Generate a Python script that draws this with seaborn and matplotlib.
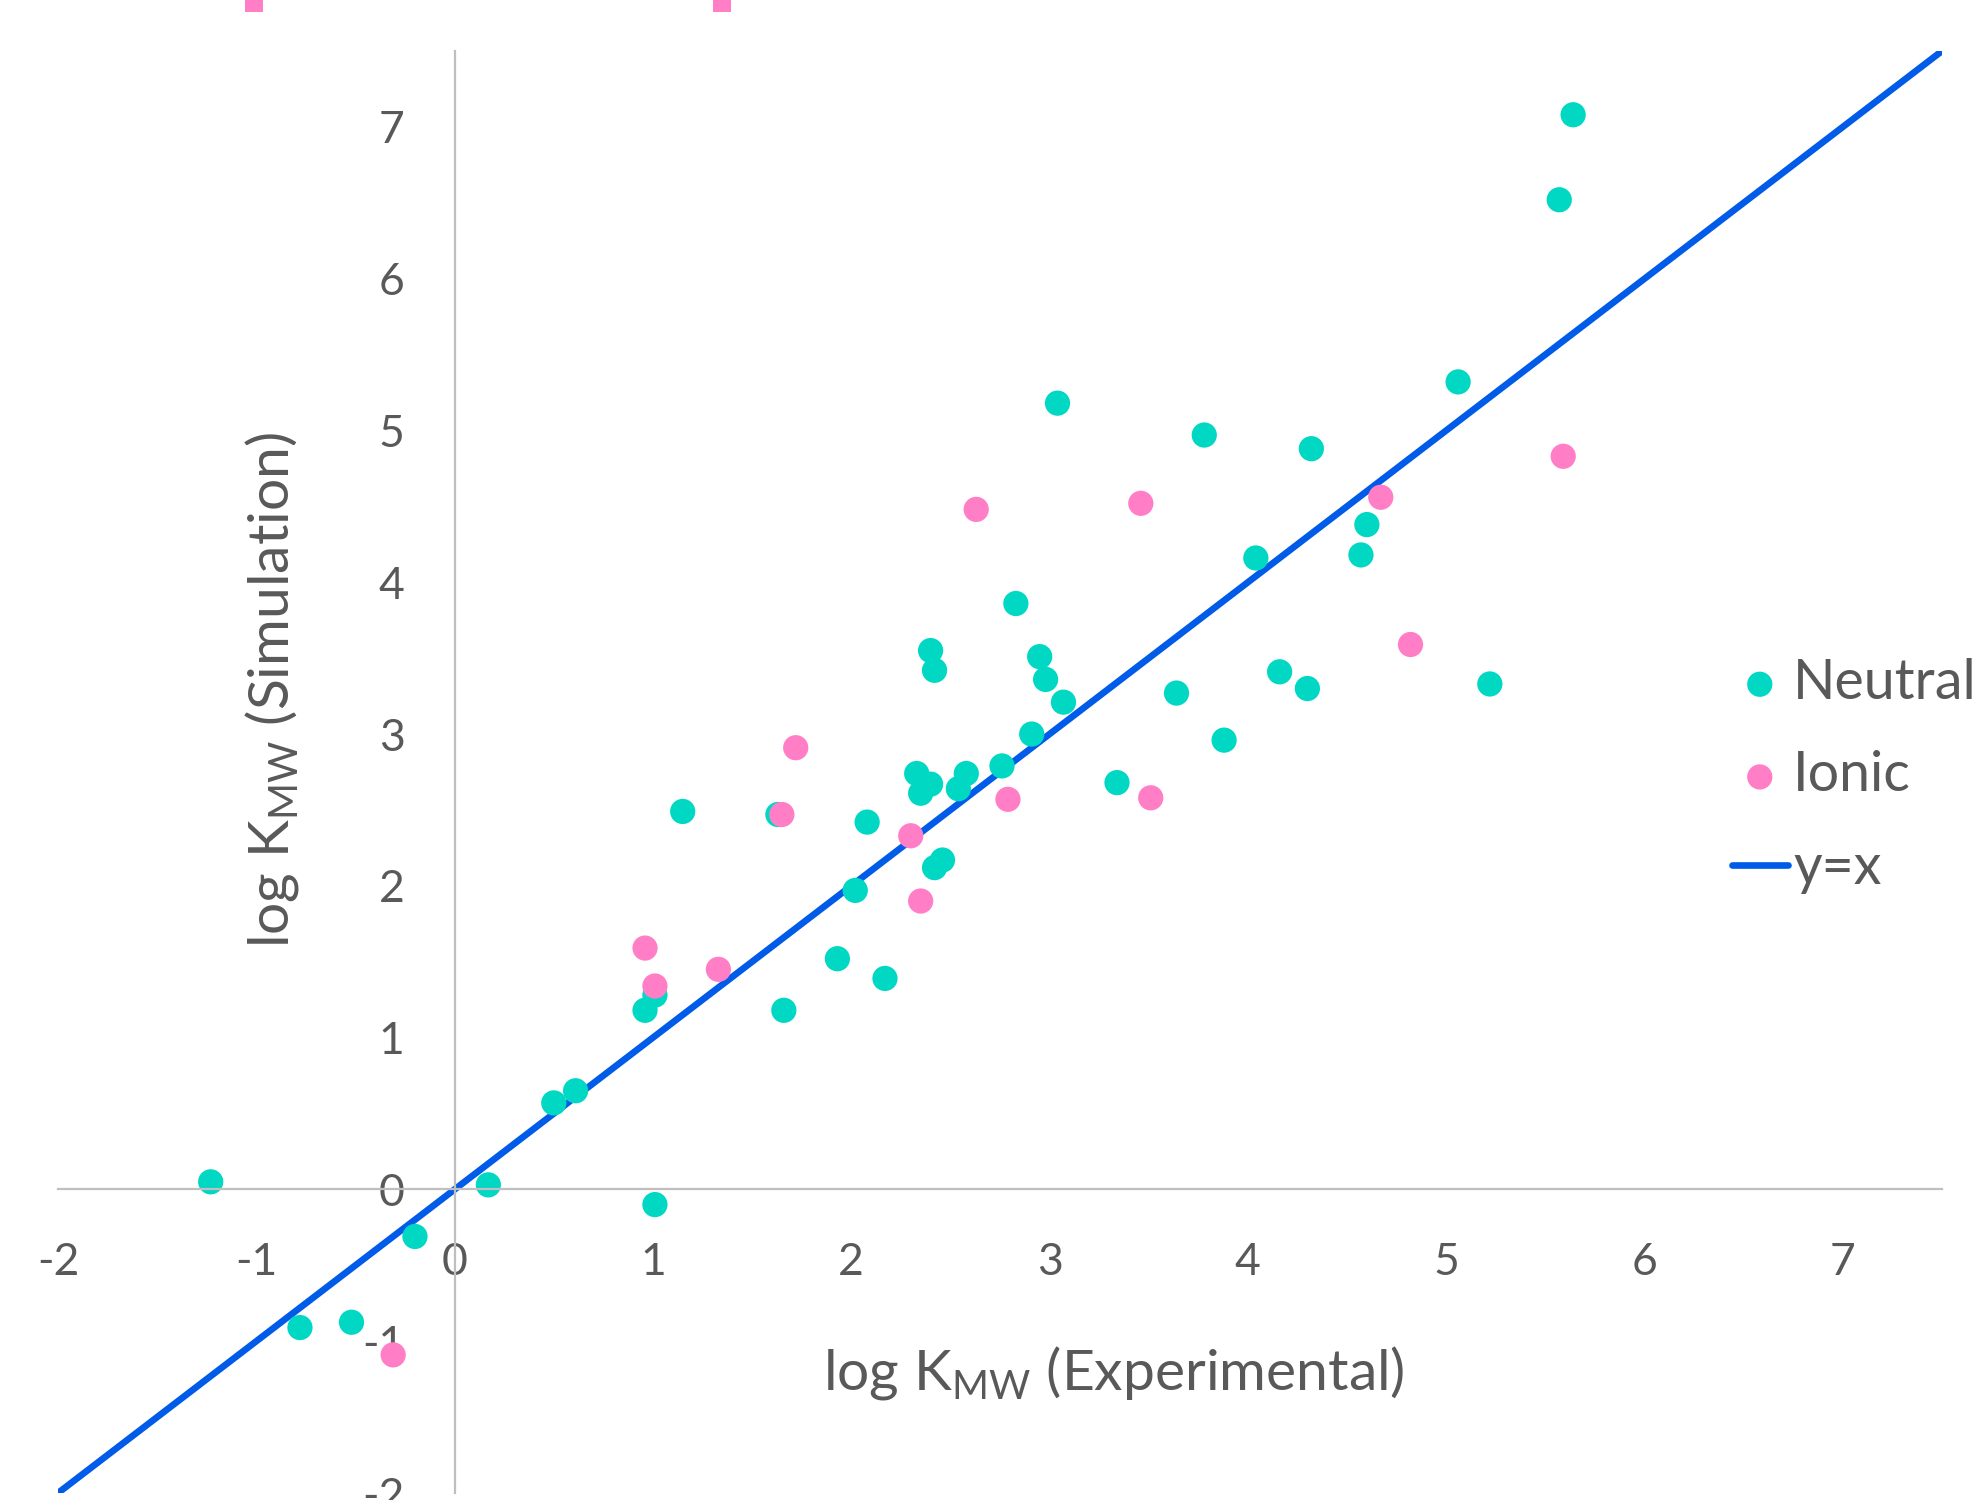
import matplotlib
matplotlib.use("Agg")
import matplotlib.pyplot as plt
from matplotlib.patches import Rectangle
import seaborn as sns

# values
neutral_exp = [-1.23, -0.78, -0.52, -0.20, 0.17, 0.50, 0.61, 0.96, 1.01, 1.01,
               1.15, 1.63, 1.66, 1.93, 2.02, 2.08, 2.17, 2.33, 2.35, 2.40,
               2.40, 2.42, 2.42, 2.46, 2.54, 2.58, 2.76, 2.83, 2.91, 2.95,
               2.98, 3.07, 3.04, 3.34, 3.64, 3.78, 3.88, 4.04, 4.16, 4.30,
               4.32, 4.57, 4.60, 5.06, 5.22, 5.57, 5.64]
neutral_sim = [0.05, -0.91, -0.875, -0.31, 0.03, 0.57, 0.65, 1.18, 1.28, -0.10,
               2.49, 2.47, 1.18, 1.52, 1.97, 2.42, 1.39, 2.74, 2.61, 2.67,
               3.55, 3.42, 2.12, 2.17, 2.64, 2.74, 2.79, 3.86, 3.00, 3.51,
               3.36, 3.21, 5.18, 2.68, 3.27, 4.97, 2.96, 4.16, 3.41, 3.30,
               4.88, 4.18, 4.38, 5.32, 3.33, 6.52, 7.08]
ionic_exp = [-0.31, 0.96, 1.01, 1.33, 1.65, 1.72, 2.30, 2.35, 2.63, 2.79,
             3.46, 3.51, 4.67, 4.82, 5.59]
ionic_sim = [-1.09, 1.59, 1.34, 1.45, 2.47, 2.91, 2.33, 1.90, 4.48, 2.57,
             4.52, 2.58, 4.56, 3.59, 4.83]
line_xy = [-2, 7.5]
ticks = [-2, -1, 0, 1, 2, 3, 4, 5, 6, 7]

teal = "#00D8C4"
pink = "#FF7EC6"
blue = "#005CE8"
grey = "#595959"

sns.set_style("white")
plt.rcParams["font.family"] = ["Lato", "DejaVu Sans"]
plt.rcParams["mathtext.fontset"] = "custom"
plt.rcParams["mathtext.rm"] = "Lato"
plt.rcParams["axes.unicode_minus"] = False

fig = plt.figure(figsize=(19.84, 15), dpi=100)
ax = fig.add_axes([58 / 1984, 1 - 1493 / 1500, (1942 - 58) / 1984, (1493 - 51) / 1500])

sns.lineplot(x=line_xy, y=line_xy, ax=ax, color=blue, linewidth=4.8,
             label="y=x", zorder=0.5)
sns.scatterplot(x=neutral_exp, y=neutral_sim, ax=ax, color=teal, s=330,
                edgecolor="none", label="Neutral", zorder=1)
sns.scatterplot(x=ionic_exp, y=ionic_sim, ax=ax, color=pink, s=330,
                edgecolor="none", label="Ionic", zorder=1.1)

ax.set_xlim(-2, 7.5)
ax.set_ylim(-2, 7.5)
ax.set_xticks(ticks)
ax.set_yticks(ticks)
for side in ["top", "right"]:
    ax.spines[side].set_visible(False)
for side in ["left", "bottom"]:
    ax.spines[side].set_position(("data", 0))
    ax.spines[side].set_color("#BFBFBF")
    ax.spines[side].set_linewidth(1.6)
ax.tick_params(length=0, labelsize=32, labelcolor=grey)
ax.tick_params(axis="x", pad=38)
ax.tick_params(axis="y", pad=36)
ax.set_xlabel("")
ax.set_ylabel("")

fig.text(272 / 1984, 1 - 690 / 1500, r"log K$_\mathregular{MW}$ (Simulation)",
         rotation=90, ha="center", va="center", fontsize=41, color=grey)
fig.text(1114 / 1984, 1 - 1373 / 1500, r"log K$_\mathregular{MW}$ (Experimental)",
         ha="center", va="center", fontsize=41, color=grey)

handles, labels = ax.get_legend_handles_labels()
order = [labels.index(n) for n in ["Neutral", "Ionic", "y=x"]]
leg = ax.legend([handles[i] for i in order], [labels[i] for i in order],
                loc="center left", bbox_to_anchor=(1732 / 1984, 1 - 776 / 1500),
                bbox_transform=fig.transFigure, frameon=False, fontsize=40,
                handlelength=1.0, handletextpad=0.1, labelspacing=0.75,
                borderaxespad=0, borderpad=0)
for t in leg.get_texts():
    t.set_color(grey)

# clipped pink marks along the top edge
for x0 in [245, 713]:
    fig.add_artist(Rectangle((x0 / 1984, 1 - 12 / 1500), 18 / 1984, 12 / 1500,
                             transform=fig.transFigure, color=pink, lw=0))

fig.savefig("out.png", dpi=100)
